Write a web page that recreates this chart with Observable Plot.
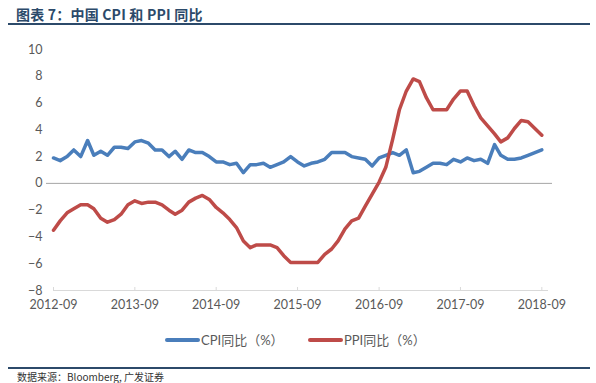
<!DOCTYPE html>
<html><head><meta charset="utf-8">
<script src="https://cdn.jsdelivr.net/npm/d3@7"></script>
<script src="https://cdn.jsdelivr.net/npm/@observablehq/plot@0.6"></script>
<style>
html,body{margin:0;padding:0;background:#fff;}
#wrap{position:relative;width:596px;height:383px;overflow:hidden;font-family:Lato,"Noto Sans CJK SC",sans-serif;}
#wrap svg{position:absolute;left:0;top:0;}
.title{position:absolute;left:16px;top:5px;line-height:18px;font-size:14px;font-weight:bold;color:#2c4a6a;font-family:"Noto Sans CJK SC",sans-serif;letter-spacing:0.2px;}
.rule1{position:absolute;left:8px;top:23px;width:582px;height:2px;background:#2c4a6a;}
.rule2{position:absolute;left:8px;top:367px;width:582px;height:2px;background:#2c4a6a;}
.source{position:absolute;left:17px;top:370px;line-height:13px;font-size:10px;color:#333;font-family:"Noto Sans CJK SC",sans-serif;}
.legend{position:absolute;top:330px;left:0;font-size:13px;color:#595959;font-family:Lato,"Noto Sans CJK SC",sans-serif;}
.sw{position:absolute;top:8px;width:35px;height:4px;border-radius:2px;}
.lt{position:absolute;top:0;white-space:nowrap;}
</style></head>
<body><div id="wrap"></div>
<script>
const months = [
"2012-09","2012-10","2012-11","2012-12",
"2013-01","2013-02","2013-03","2013-04","2013-05","2013-06","2013-07","2013-08","2013-09","2013-10","2013-11","2013-12",
"2014-01","2014-02","2014-03","2014-04","2014-05","2014-06","2014-07","2014-08","2014-09","2014-10","2014-11","2014-12",
"2015-01","2015-02","2015-03","2015-04","2015-05","2015-06","2015-07","2015-08","2015-09","2015-10","2015-11","2015-12",
"2016-01","2016-02","2016-03","2016-04","2016-05","2016-06","2016-07","2016-08","2016-09","2016-10","2016-11","2016-12",
"2017-01","2017-02","2017-03","2017-04","2017-05","2017-06","2017-07","2017-08","2017-09","2017-10","2017-11","2017-12",
"2018-01","2018-02","2018-03","2018-04","2018-05","2018-06","2018-07","2018-08","2018-09"];
const cpi = [1.9,1.7,2.0,2.5,
2.0,3.2,2.1,2.4,2.1,2.7,2.7,2.6,3.1,3.2,3.0,2.5,
2.5,2.0,2.4,1.8,2.5,2.3,2.3,2.0,1.6,1.6,1.4,1.5,
0.8,1.4,1.4,1.5,1.2,1.4,1.6,2.0,1.6,1.3,1.5,1.6,
1.8,2.3,2.3,2.3,2.0,1.9,1.8,1.3,1.9,2.1,2.3,2.1,
2.5,0.8,0.9,1.2,1.5,1.5,1.4,1.8,1.6,1.9,1.7,1.8,
1.5,2.9,2.1,1.8,1.8,1.9,2.1,2.3,2.5];
const ppi = [-3.5,-2.8,-2.2,-1.9,
-1.6,-1.6,-1.9,-2.6,-2.9,-2.7,-2.3,-1.6,-1.3,-1.5,-1.4,-1.4,
-1.6,-2.0,-2.3,-2.0,-1.4,-1.1,-0.9,-1.2,-1.8,-2.2,-2.7,-3.3,
-4.3,-4.8,-4.6,-4.6,-4.6,-4.8,-5.4,-5.9,-5.9,-5.9,-5.9,-5.9,
-5.3,-4.9,-4.3,-3.4,-2.8,-2.6,-1.7,-0.8,0.1,1.2,3.3,5.5,
6.9,7.8,7.6,6.4,5.5,5.5,5.5,6.3,6.9,6.9,5.8,4.9,
4.3,3.7,3.1,3.4,4.1,4.7,4.6,4.1,3.6];
const seriesNames = ["CPI同比（%）","PPI同比（%）"];
const colors = ["#4a7ebb","#be4b48"];
const xTicks = ["2012-09","2013-09","2014-09","2015-09","2016-09","2017-09","2018-09"];
const yTicks = [-8,-6,-4,-2,0,2,4,6,8,10];

const parse = d3.utcParse("%Y-%m");
const data = [];
months.forEach((m,i)=>{
  data.push({date:parse(m), v:cpi[i], s:seriesNames[0]});
  data.push({date:parse(m), v:ppi[i], s:seriesNames[1]});
});

const chart = Plot.plot({
  width:596, height:383,
  marginLeft:53, marginRight:48, marginTop:49, marginBottom:93,
  style:{fontFamily:"Lato, 'Noto Sans CJK SC', sans-serif", fontSize:"12.5px", color:"#595959", background:"transparent"},
  x:{type:"utc", domain:[parse("2012-09"), parse("2018-10")], label:null},
  y:{domain:[-8,10], label:null},
  color:{domain:seriesNames, range:colors},
  marks:[
    Plot.ruleY([-8], {stroke:"#d9d9d9", strokeWidth:1}),
    Plot.ruleY([0], {stroke:"#a6a6a6", strokeWidth:1, insetLeft:-7, insetRight:-4}),
    Plot.axisX(xTicks.map(parse), {tickFormat:d3.utcFormat("%Y-%m"), tickSize:-3, tickPadding:13, stroke:"#d9d9d9", fill:"#595959", label:null}),
    Plot.axisY(yTicks, {tickSize:0, tickPadding:11, fill:"#595959", label:null}),
    Plot.line(data, {x:"date", y:"v", stroke:"s", strokeWidth:3.5, strokeLinejoin:"round", strokeLinecap:"round"})
  ]
});
const wrap = document.getElementById("wrap");
wrap.appendChild(chart);

const add = (cls, text) => { const d=document.createElement("div"); d.className=cls; if(text) d.textContent=text; wrap.appendChild(d); return d; };
add("title","图表 7：中国 CPI 和 PPI 同比");
add("rule1");
add("rule2");
add("source","数据来源：Bloomberg, 广发证券");
const leg = add("legend");
const legX = [165, 308];
seriesNames.forEach((n,i)=>{
  const sw=document.createElement("div"); sw.className="sw"; sw.style.left=legX[i]+"px"; sw.style.background=colors[i]; leg.appendChild(sw);
  const t=document.createElement("div"); t.className="lt"; t.style.left=(legX[i]+36)+"px"; t.textContent=n; leg.appendChild(t);
});
</script></body></html>
